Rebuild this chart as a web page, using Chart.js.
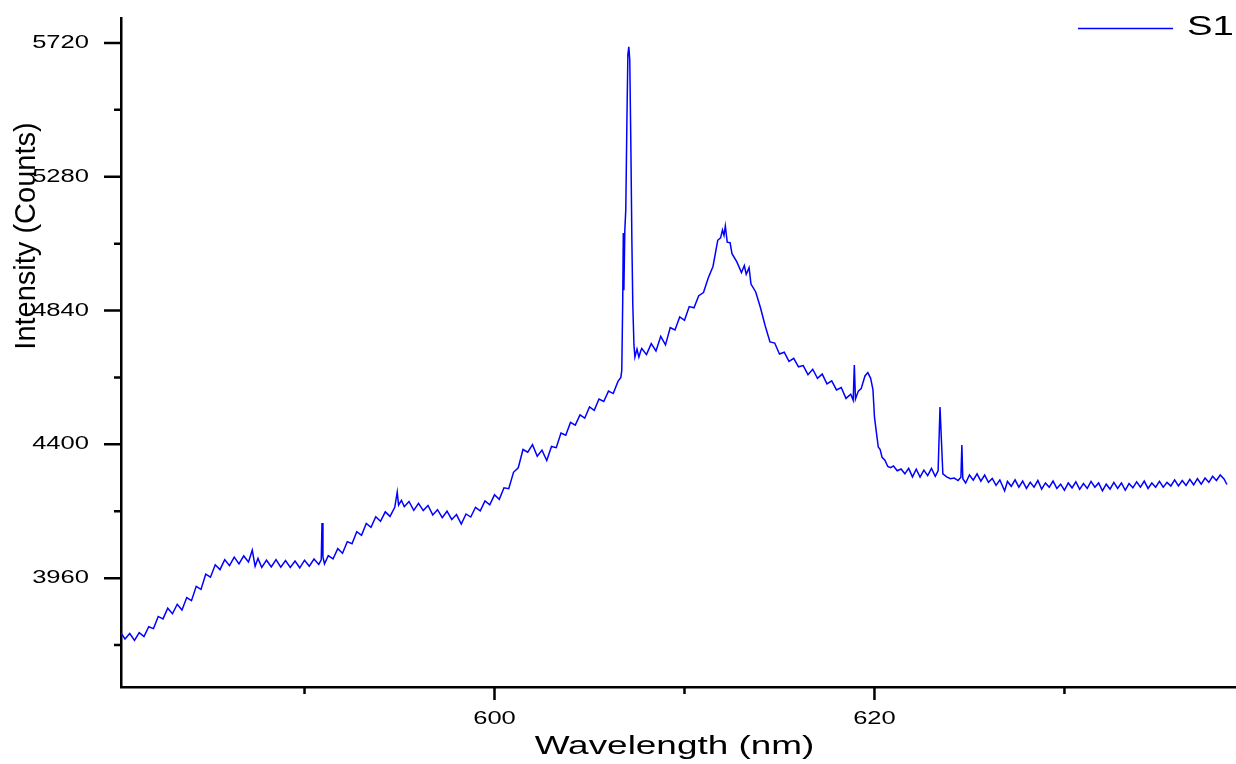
<!DOCTYPE html>
<html>
<head>
<meta charset="utf-8">
<script src="https://cdn.jsdelivr.net/npm/chart.js@4.4.1/dist/chart.umd.min.js"></script>
<style>
    body { margin: 0; background: #fff; }
    canvas { display: block; }
</style>
</head>
<body>
<canvas id="spectrum" width="1236" height="764"></canvas>
<script>
// Espectro (nm, cuentas)
const wavelength = [
    580.34, 580.55, 580.80, 581.05, 581.30, 581.55, 581.80, 582.05, 582.30, 582.55,
    582.80, 583.05, 583.30, 583.55, 583.80, 584.05, 584.30, 584.55, 584.80, 585.05,
    585.30, 585.55, 585.80, 586.05, 586.30, 586.55, 586.80, 587.05, 587.25, 587.40,
    587.55, 587.75, 588.00, 588.25, 588.50, 588.75, 589.00, 589.25, 589.50, 589.75,
    590.00, 590.25, 590.50, 590.75, 590.88, 590.92, 590.97, 591.05, 591.25, 591.50,
    591.75, 592.00, 592.25, 592.50, 592.75, 593.00, 593.25, 593.50, 593.75, 594.00,
    594.25, 594.50, 594.75, 594.88, 594.95, 595.10, 595.25, 595.50, 595.75, 596.00,
    596.25, 596.50, 596.75, 597.00, 597.25, 597.50, 597.75, 598.00, 598.25, 598.50,
    598.75, 599.00, 599.25, 599.50, 599.75, 600.00, 600.25, 600.50, 600.75, 601.00,
    601.25, 601.50, 601.75, 602.00, 602.25, 602.50, 602.75, 603.00, 603.25, 603.50,
    603.75, 604.00, 604.25, 604.50, 604.75, 605.00, 605.25, 605.50, 605.75, 606.00,
    606.25, 606.50, 606.65, 606.70, 606.75, 606.78, 606.81, 606.86, 606.91, 606.97,
    607.02, 607.07, 607.12, 607.18, 607.23, 607.28, 607.34, 607.39, 607.50, 607.60,
    607.70, 607.75, 608.00, 608.25, 608.50, 608.75, 609.00, 609.25, 609.50, 609.75,
    610.00, 610.25, 610.50, 610.75, 611.00, 611.25, 611.50, 611.75, 611.90, 612.00,
    612.08, 612.15, 612.25, 612.40, 612.50, 612.75, 613.00, 613.15, 613.25, 613.40,
    613.50, 613.75, 614.00, 614.25, 614.50, 614.75, 615.00, 615.25, 615.50, 615.75,
    616.00, 616.25, 616.50, 616.75, 617.00, 617.25, 617.50, 617.75, 618.00, 618.25,
    618.50, 618.75, 618.88, 618.94, 619.00, 619.15, 619.30, 619.50, 619.65, 619.80,
    619.92, 620.00, 620.10, 620.20, 620.30, 620.40, 620.55, 620.70, 620.85, 621.00,
    621.20, 621.40, 621.60, 621.80, 622.00, 622.20, 622.40, 622.60, 622.80, 623.00,
    623.20, 623.35, 623.45, 623.52, 623.60, 623.80, 624.00, 624.20, 624.40, 624.55,
    624.60, 624.65, 624.80, 625.00, 625.20, 625.40, 625.60, 625.80, 626.00, 626.20,
    626.40, 626.60, 626.85, 627.00, 627.20, 627.40, 627.60, 627.80, 628.00, 628.20,
    628.40, 628.60, 628.80, 629.00, 629.20, 629.40, 629.60, 629.80, 630.00, 630.20,
    630.40, 630.60, 630.80, 631.00, 631.20, 631.40, 631.60, 631.80, 632.00, 632.20,
    632.40, 632.60, 632.80, 633.00, 633.20, 633.40, 633.60, 633.80, 634.00, 634.20,
    634.40, 634.60, 634.80, 635.00, 635.20, 635.40, 635.60, 635.80, 636.00, 636.20,
    636.40, 636.60, 636.80, 637.00, 637.20, 637.40, 637.60, 637.80, 638.00, 638.20,
    638.40, 638.55
];
const intensity = [
    3780, 3760, 3778, 3755, 3781, 3768, 3800, 3794, 3834, 3826,
    3861, 3843, 3874, 3855, 3896, 3886, 3933, 3923, 3973, 3963,
    4004, 3988, 4021, 4001, 4029, 4007, 4033, 4013, 4052, 3999,
    4025, 3995, 4019, 3997, 4021, 3996, 4018, 3995, 4016, 3994,
    4019, 3999, 4023, 4005, 4020, 4141, 4030, 4007, 4034, 4023,
    4057, 4042, 4080, 4073, 4113, 4101, 4140, 4127, 4162, 4147,
    4178, 4163, 4193, 4243, 4200, 4216, 4195, 4212, 4183, 4206,
    4182, 4199, 4168, 4185, 4159, 4180, 4153, 4169, 4138, 4171,
    4161, 4193, 4181, 4214, 4201, 4234, 4219, 4257, 4254, 4308,
    4323, 4383, 4374, 4399, 4361, 4381, 4347, 4393, 4389, 4437,
    4430, 4472, 4463, 4497, 4486, 4523, 4512, 4549, 4541, 4575,
    4567, 4607, 4620, 4644, 4875, 5095, 4907, 5105, 5171, 5467,
    5681, 5707, 5664, 5368, 5072, 4858, 4727, 4687, 4713, 4687,
    4708, 4715, 4695, 4731, 4707, 4755, 4727, 4784, 4776, 4819,
    4808, 4853, 4849, 4889, 4899, 4947, 4985, 5071, 5079, 5105,
    5087, 5118, 5065, 5063, 5027, 5001, 4965, 4988, 4959, 4981,
    4927, 4901, 4849, 4789, 4737, 4733, 4697, 4703, 4673, 4683,
    4655, 4659, 4629, 4647, 4617, 4631, 4599, 4609, 4579, 4587,
    4551, 4565, 4545, 4661, 4549, 4575, 4583, 4625, 4636, 4617,
    4580, 4490, 4440, 4391, 4383, 4357, 4348, 4327, 4323, 4329,
    4313, 4319, 4303, 4321, 4293, 4318, 4292, 4315, 4297, 4321,
    4295, 4313, 4523, 4420, 4303, 4293, 4287, 4289, 4281, 4292,
    4398, 4287, 4273, 4299, 4282, 4303, 4279, 4299, 4275, 4288,
    4265, 4283, 4247, 4278, 4262, 4283, 4259, 4279, 4255, 4275,
    4259, 4281, 4253, 4273, 4259, 4279, 4255, 4269, 4249, 4273,
    4257, 4277, 4252, 4271, 4255, 4278, 4259, 4273, 4247, 4269,
    4253, 4275, 4255, 4273, 4249, 4271, 4257, 4277, 4259, 4279,
    4255, 4273, 4259, 4278, 4259, 4275, 4263, 4283, 4263, 4281,
    4265, 4285, 4267, 4287, 4269, 4289, 4275, 4295, 4281, 4299,
    4286, 4268
];

const xMajorTicks = [600, 620];
const xMinorTicks = [590, 610, 630];
const yMajorTicks = [3960, 4400, 4840, 5280, 5720];
const yMinorTicks = [3740, 4180, 4620, 5060, 5500];
const seriesName = 'S1';
const xTitle = 'Wavelength (nm)';
const yTitle = 'Intensity (Counts)';

const FONT = '"Liberation Sans", Arial, sans-serif';
const STRETCH = 1.42; // el texto del original sale ensanchado
const AZUL = '#0000ff';

function textoAncho(ctx, text, x, y, align) {
    ctx.save();
    ctx.translate(x, y);
    ctx.scale(STRETCH, 1);
    ctx.textAlign = align;
    ctx.fillText(text, 0, 0);
    ctx.restore();
}

// Marcas de los ejes, etiquetas, titulos y leyenda
const ejesPlugin = {
    id: 'ejes',
    afterDraw(chart) {
        const ctx = chart.ctx;
        const xs = chart.scales.x;
        const ys = chart.scales.y;
        const area = chart.chartArea;

        ctx.save();
        ctx.strokeStyle = '#000';
        ctx.lineWidth = 2.5;
        ctx.beginPath();
        yMajorTicks.forEach(v => {
            const p = ys.getPixelForValue(v);
            ctx.moveTo(area.left - 17, p);
            ctx.lineTo(area.left, p);
        });
        yMinorTicks.forEach(v => {
            const p = ys.getPixelForValue(v);
            ctx.moveTo(area.left - 7, p);
            ctx.lineTo(area.left, p);
        });
        xMajorTicks.forEach(v => {
            const p = xs.getPixelForValue(v);
            ctx.moveTo(p, area.bottom);
            ctx.lineTo(p, area.bottom + 13);
        });
        xMinorTicks.forEach(v => {
            const p = xs.getPixelForValue(v);
            ctx.moveTo(p, area.bottom);
            ctx.lineTo(p, area.bottom + 7);
        });
        ctx.stroke();

        ctx.fillStyle = '#000';
        ctx.textBaseline = 'middle';
        ctx.font = '18px ' + FONT;
        yMajorTicks.forEach(v => textoAncho(ctx, String(v), area.left - 32, ys.getPixelForValue(v), 'right'));
        xMajorTicks.forEach(v => textoAncho(ctx, String(v), xs.getPixelForValue(v), area.bottom + 32, 'center'));

        ctx.font = '26px ' + FONT;
        textoAncho(ctx, xTitle, (area.left + area.right) / 2 - 4, area.bottom + 60, 'center');

        // leyenda arriba a la derecha
        const ds = chart.data.datasets[0];
        ctx.strokeStyle = ds.borderColor;
        ctx.lineWidth = 1.3;
        ctx.beginPath();
        ctx.moveTo(area.right - 158, 28.5);
        ctx.lineTo(area.right - 63, 28.5);
        ctx.stroke();
        ctx.font = '27px ' + FONT;
        textoAncho(ctx, ds.label, area.right - 49, 28, 'left');

        ctx.font = '29px ' + FONT;
        ctx.translate(27, area.top + 218);
        ctx.rotate(-Math.PI / 2);
        ctx.textAlign = 'center';
        ctx.fillText(yTitle, 0, 0);
        ctx.restore();
    }
};

const puntos = wavelength.map((w, i) => ({ x: w, y: intensity[i] }));

new Chart(document.getElementById('spectrum'), {
    type: 'line',
    data: {
        datasets: [{
            label: seriesName,
            data: puntos,
            borderColor: AZUL,
            backgroundColor: AZUL,
            borderWidth: 1.5,
            pointRadius: 0,
            tension: 0,
            fill: false
        }]
    },
    options: {
        responsive: false,
        animation: false,
        layout: { padding: { left: 121, right: 0, top: 18, bottom: 77 } },
        scales: {
            x: {
                type: 'linear',
                min: 580.34,
                max: 639.03,
                grid: { display: false, drawTicks: false },
                ticks: { display: false },
                border: { display: true, color: '#000', width: 2.5 }
            },
            y: {
                type: 'linear',
                min: 3602,
                max: 5802,
                grid: { display: false, drawTicks: false },
                ticks: { display: false },
                border: { display: true, color: '#000', width: 2.5 }
            }
        },
        plugins: {
            legend: { display: false },
            tooltip: { enabled: false }
        }
    },
    plugins: [ejesPlugin]
});
</script>
</body>
</html>
